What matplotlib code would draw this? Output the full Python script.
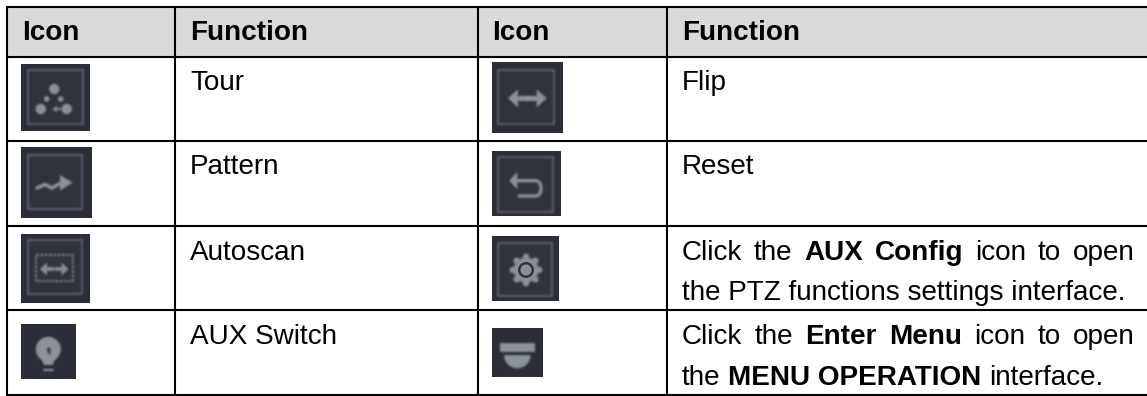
import numpy as np
import matplotlib
matplotlib.use("Agg")
import matplotlib.pyplot as plt
from matplotlib.patches import Rectangle, Circle, Polygon, Wedge, PathPatch
from matplotlib.path import Path

# ---- table content ----
headers = ["Icon", "Function", "Icon", "Function"]
left_functions = ["Tour", "Pattern", "Autoscan", "AUX Switch"]
right_functions = [
    [[("Flip", False)]],
    [[("Reset", False)]],
    [[("Click the", False), ("AUX Config", True), ("icon to open", False)],
     [("the PTZ functions settings interface.", False)]],
    [[("Click the", False), ("Enter Menu", True), ("icon to open", False)],
     [("the", False), ("MENU OPERATION", True), ("interface.", False)]],
]

# ---- layout (pixels) ----
W, H = 1147, 396
col_x = [7, 175, 478, 667]
row_y = [7, 57, 141, 226, 310, 395]
header_base = 40.5
row_base = [[90], [174], [260, 300], [344, 385]]
text_x = [22, 190, 492, 682]
right_edge = 1134.5
FS = 20.1
FONT = "Liberation Sans"
LW = 1.5

BG = "#2b2d38"
INNER = "#30323c"
EDGE = "#5a6068"
GL = "#8b9398"

fig = plt.figure(figsize=(W / 100, H / 100), dpi=100, facecolor="white")
ax = fig.add_axes([0, 0, 1, 1])
ax.set_xlim(0, W)
ax.set_ylim(H, 0)
ax.axis("off")


def soften(im, dpi):
    """Blur the coverage of a one-colour artist, as in the scaled-up screenshots."""
    pad = 4
    alpha = np.pad(im[..., 3], pad)
    k = np.array([1, 4, 6, 4, 1]) / 16
    for axis in (0, 1):
        alpha = np.apply_along_axis(lambda v: np.convolve(v, k, mode="same"), axis, alpha)
    i, j = np.unravel_index(np.argmax(im[..., 3]), im.shape[:2])
    out = np.zeros(alpha.shape + (4,), dtype=im.dtype)
    out[..., :3] = im[i, j, :3]
    out[..., 3] = alpha
    return out, -pad, -pad


# grid
ax.add_patch(Rectangle((col_x[0], row_y[0]), W - col_x[0], row_y[1] - row_y[0], fc="#d9d9d9", ec="none"))
for y in row_y:
    ax.plot([col_x[0] - 1, W], [y, y], color="black", lw=LW, solid_capstyle="butt")
for x in col_x:
    ax.plot([x, x], [row_y[0], row_y[-1]], color="black", lw=LW, solid_capstyle="butt")

renderer = fig.canvas.get_renderer()


def word_w(s, bold):
    t = ax.text(0, 0, s, fontsize=FS, family=FONT, weight="bold" if bold else "normal")
    w = t.get_window_extent(renderer).width
    t.remove()
    return w


def put(x, y, s, bold=False):
    ax.text(x, y, s, fontsize=FS, family=FONT, weight="bold" if bold else "normal",
            va="baseline", ha="left", color="black")


def justified(x0, x1, y, segs):
    words = [(w, b) for s, b in segs for w in s.split(" ")]
    widths = [word_w(w, b) for w, b in words]
    gap = (x1 - x0 - sum(widths)) / (len(words) - 1)
    x = x0
    for (w, b), wd in zip(words, widths):
        put(x, y, w, b)
        x += wd + gap


def mixed(x, y, segs):
    space = word_w("a a", False) - 2 * word_w("a", False)
    for s, b in segs:
        put(x, y, s, b)
        x += word_w(s, b) + space


for x, h in zip(text_x, headers):
    put(x, header_base, h, True)
for base, s in zip(row_base, left_functions):
    put(text_x[1], base[0], s)
for base, lines in zip(row_base, right_functions):
    for i, (y, segs) in enumerate(zip(base, lines)):
        if len(lines) == 2 and i == 0:
            justified(text_x[3], right_edge, y, segs)
        else:
            mixed(text_x[3], y, segs)


# ---- icons ----
def tile(x0, y0, x1, y1, border=None):
    ax.add_patch(Rectangle((x0, y0), x1 - x0, y1 - y0, fc=BG, ec="none", zorder=3))
    if border:
        bx0, by0, bx1, by1 = border
        ax.add_patch(Rectangle((bx0, by0), bx1 - bx0, by1 - by0, fc=INNER, ec="none", zorder=3.05))
        ax.add_patch(Rectangle((bx0, by0), bx1 - bx0, by1 - by0, fc="none", ec=EDGE, lw=1.4,
                               zorder=3.1, agg_filter=soften))


def blob(cx, cy, r, c=GL):
    ax.add_patch(Circle((cx, cy), r, fc=c, ec="none", zorder=4, agg_filter=soften))


def stroke(xs, ys, lw=1.6, c=GL, ls="-"):
    ax.plot(xs, ys, color=c, lw=lw, ls=ls, solid_capstyle="round", solid_joinstyle="round",
            zorder=4.1, agg_filter=soften)


def tri(pts, c=GL):
    ax.add_patch(Polygon(pts, closed=True, fc=c, ec="none", zorder=4, agg_filter=soften))


def double_arrow(xl, xm1, xm2, xr, y, head=10, hw=9, lw=3.6):
    tri([(xl, y), (xl + head, y - hw), (xl + head, y + hw)])
    stroke([xl + head, xm1], [y, y], lw)
    tri([(xr, y), (xr - head, y - hw), (xr - head, y + hw)])
    stroke([xm2, xr - head], [y, y], lw)


# Tour
tile(21, 64, 90, 131, (27.7, 70, 82.7, 124))
blob(54.3, 89, 5.2)
blob(40.7, 109, 5.2)
blob(66.7, 109, 5.2)
blob(46.7, 99, 2.8)
blob(60.7, 99, 2.8)
tri([(52.5, 109), (57, 105.5), (57, 112.5)])
stroke([57, 61], [109, 109], 1.4)

# Pattern
tile(21, 147, 92, 218, (27.7, 155, 81.7, 209))
stroke([37, 45, 52, 60], [188, 184.5, 188, 183.5], 2.6)
tri([(60, 175), (72.7, 182.7), (60, 190.5)])

# Autoscan
tile(21, 234, 90, 303, (27.7, 240, 81.7, 294))
ax.add_patch(Rectangle((35.7, 255), 37, 26, fc="none", ec=GL, lw=1.2, ls=(0, (1.6, 1.0)),
                       zorder=4, agg_filter=soften))
double_arrow(40, 53, 56, 68.5, 269, head=7, hw=6.5, lw=2.6)

# AUX switch
tile(21, 324, 76, 379)
blob(48.3, 349.3, 12.5)
tri([(41, 356), (55.5, 356), (52.8, 365), (43.8, 365)])
stroke([44, 53], [369.5, 369.5], 1.6)
stroke([47.5, 47.5], [347, 353], 0.9, BG)
stroke([47.5, 50, 50], [350, 349, 354], 0.9, BG)

# Flip
tile(492, 62, 563, 133, (498.3, 70, 554.3, 124))
double_arrow(508, 526.7, 528, 546.7, 98.3)

# Reset
tile(492, 151, 561, 216, (498, 157, 553, 212))
tri([(509.3, 180.7), (517.3, 172), (517.3, 189.5)])
ax.add_patch(PathPatch(Path([(517, 180.7), (535, 180.7), (541, 180.7), (541, 188.3), (541, 196), (535, 196), (519, 196)],
                            [Path.MOVETO, Path.LINETO, Path.CURVE3, Path.CURVE3, Path.CURVE3, Path.CURVE3, Path.LINETO]),
                       fc="none", ec=GL, lw=2.4, capstyle="round", zorder=4, agg_filter=soften))

# AUX config gear
tile(492, 236, 559, 301, (498, 242.7, 552.3, 296))
cx, cy = 526, 270
blob(cx, cy, 12.5)
for k in range(8):
    a = k * np.pi / 4
    blob(cx + 13.2 * np.cos(a), cy + 13.2 * np.sin(a), 3.2)
ax.add_patch(Circle((cx, cy), 8, fc=INNER, ec="none", zorder=4.2))
ax.add_patch(Circle((cx, cy), 5.5, fc=GL, ec="none", zorder=4.3))

# Enter menu dome
tile(492, 328, 543, 377)
ax.add_patch(Rectangle((500, 342.7), 35, 9.6, fc=GL, ec="none", zorder=4, agg_filter=soften))
ax.add_patch(Wedge((517.3, 355), 13.3, 0, 180, fc=GL, ec="none", zorder=4, agg_filter=soften))

fig.savefig("out.png", dpi=100, facecolor="white")
